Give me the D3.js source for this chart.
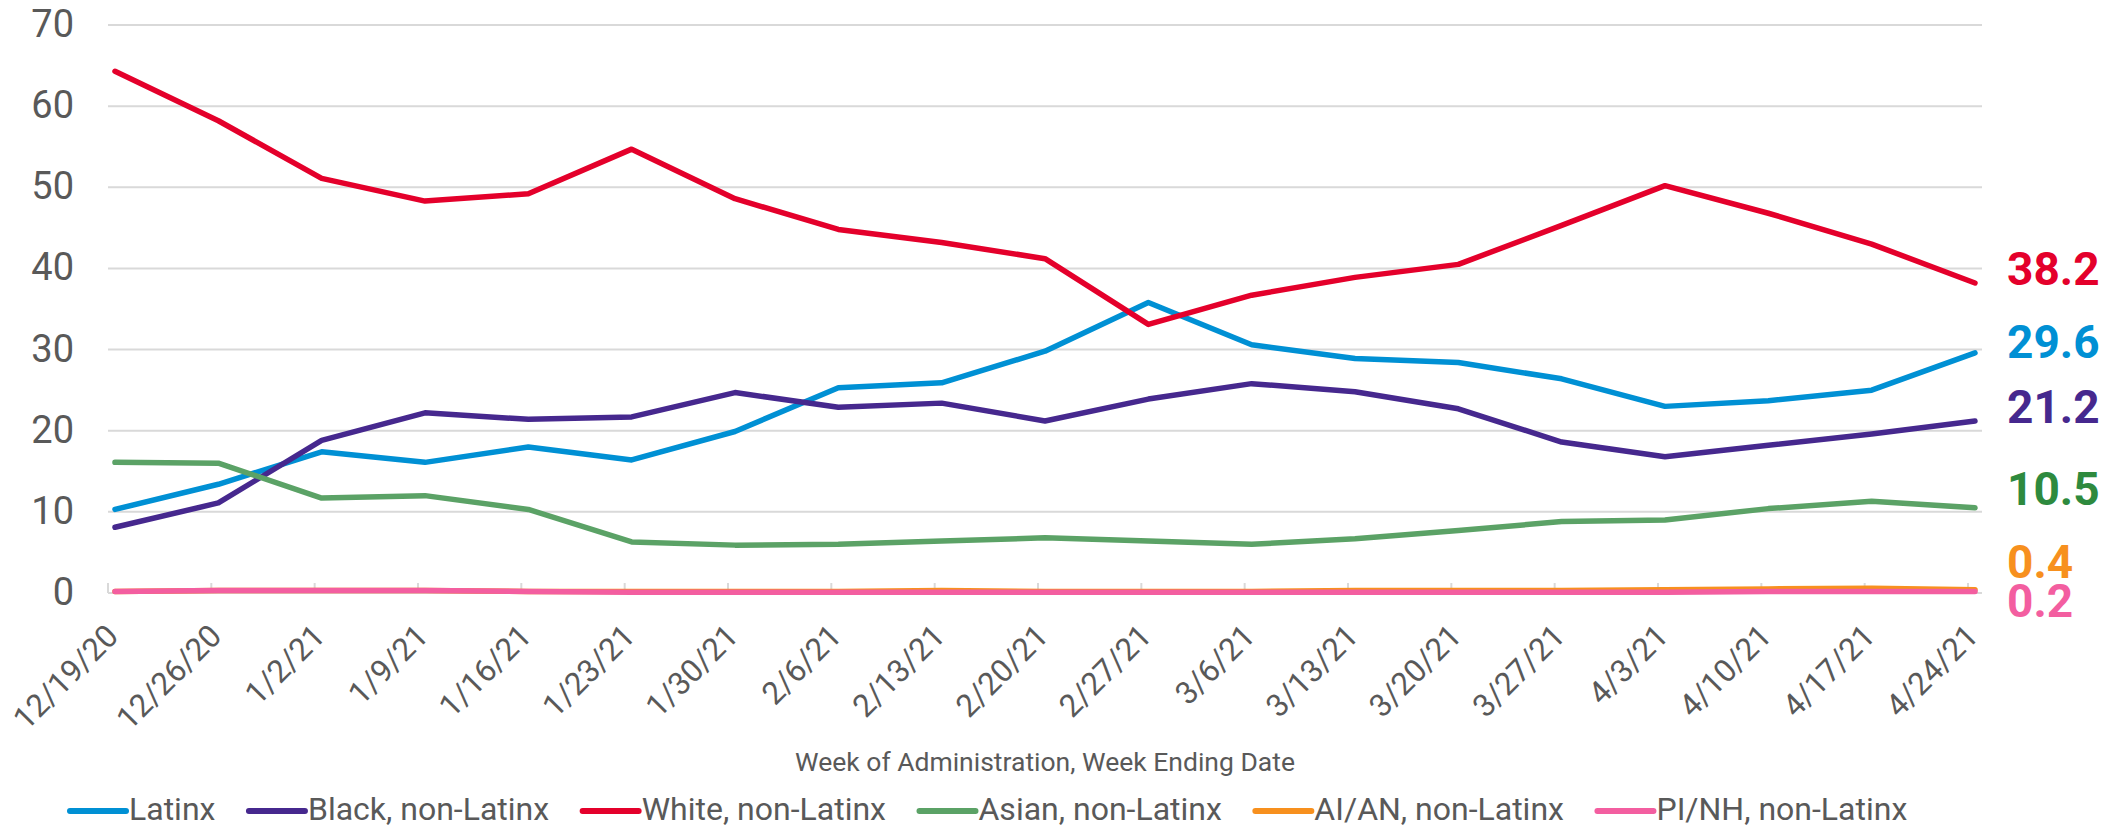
<!DOCTYPE html>
<html>
<head>
<meta charset="utf-8" />
<script src="https://cdnjs.cloudflare.com/ajax/libs/d3/7.8.5/d3.min.js"></script>
<style>
  body { margin: 0; background: #fff; }
  svg { font-family: Roboto, "Noto Sans", sans-serif; }
  .tick-label { fill: #595959; }
</style>
</head>
<body>
<script>
// week ending dates
var weeks = ["12/19/20","12/26/20","1/2/21","1/9/21","1/16/21","1/23/21","1/30/21","2/6/21","2/13/21","2/20/21",
             "2/27/21","3/6/21","3/13/21","3/20/21","3/27/21","4/3/21","4/10/21","4/17/21","4/24/21"];

// series values (percent)
var latinx = [10.3,13.4,17.4,16.1,18.0,16.4,19.9,25.3,25.9,29.8,35.8,30.6,28.9,28.4,26.4,23.0,23.7,25.0,29.6];
var black  = [8.1,11.1,18.8,22.2,21.4,21.7,24.7,22.9,23.4,21.2,23.9,25.8,24.8,22.7,18.6,16.8,18.2,19.6,21.2];
var white  = [64.3,58.2,51.1,48.3,49.2,54.7,48.6,44.8,43.2,41.2,33.1,36.7,38.9,40.5,45.3,50.2,46.8,43.0,38.2];
var asian  = [16.1,16.0,11.7,12.0,10.3,6.3,5.9,6.0,6.4,6.8,6.4,6.0,6.7,7.7,8.8,9.0,10.4,11.3,10.5];
var aian   = [0.2,0.3,0.3,0.3,0.2,0.2,0.2,0.2,0.3,0.2,0.2,0.2,0.3,0.3,0.3,0.4,0.5,0.6,0.4];
var pinh   = [0.2,0.3,0.3,0.3,0.2,0.1,0.1,0.1,0.1,0.1,0.1,0.1,0.1,0.1,0.1,0.1,0.2,0.2,0.2];

var seriesNames = ["Latinx","Black, non-Latinx","White, non-Latinx","Asian, non-Latinx","AI/AN, non-Latinx","PI/NH, non-Latinx"];
var yTicks = [0,10,20,30,40,50,60,70];

var lineColors  = ["#0090d4","#46288e","#e4002b","#5ba266","#f7901e","#f35ea0"];
var labelColors = ["#0090d4","#46288e","#e4002b","#2e8a3e","#f7901e","#f35ea0"];
// little vertical nudges so the end labels do not collide
var labelNudge = [5, 2, 2, -3, -12, 26];

var all = [latinx, black, white, asian, aian, pinh];

var w = 2128, h = 827;
var left = 108, right = 1982;

var svg = d3.select("body").append("svg")
  .attr("width", w)
  .attr("height", h);

var x = d3.scalePoint()
  .domain(weeks)
  .range([115, 1975]);

var y = d3.scaleLinear()
  .domain([0, 70])
  .range([593, 25]);

// gridlines
svg.append("g").selectAll("line")
  .data(yTicks.filter(d => d > 0))
  .enter().append("line")
  .attr("x1", left).attr("x2", right)
  .attr("y1", d => y(d)).attr("y2", d => y(d))
  .attr("stroke", "#d9d9d9")
  .attr("stroke-width", 2);

// y labels
svg.append("g").selectAll("text")
  .data(yTicks)
  .enter().append("text")
  .attr("class", "tick-label")
  .attr("x", 74)
  .attr("y", d => y(d) + 12)
  .attr("text-anchor", "end")
  .style("font-size", "38px")
  .text(d => d);

// x axis line + tick marks
svg.append("line")
  .attr("x1", left).attr("x2", right)
  .attr("y1", y(0)).attr("y2", y(0))
  .attr("stroke", "#d9d9d9")
  .attr("stroke-width", 2);

svg.append("g").selectAll("line")
  .data(weeks)
  .enter().append("line")
  .attr("x1", d => x(d) - 7).attr("x2", d => x(d) - 7)
  .attr("y1", y(0) - 10).attr("y2", y(0))
  .attr("stroke", "#d9d9d9")
  .attr("stroke-width", 2);

// x labels, rotated
svg.append("g").selectAll("text")
  .data(weeks)
  .enter().append("text")
  .attr("class", "tick-label")
  .attr("text-anchor", "end")
  .attr("transform", d => "translate(" + (x(d) + 5) + ",638) rotate(-45)")
  .style("font-size", "31.5px")
  .text(d => d);

// x axis title
svg.append("text")
  .attr("class", "tick-label")
  .attr("x", (left + right) / 2)
  .attr("y", 771)
  .attr("text-anchor", "middle")
  .style("font-size", "26.5px")
  .text("Week of Administration, Week Ending Date");

// lines
var line = d3.line()
  .x((d, i) => x(weeks[i]))
  .y(d => y(d));

svg.append("g").selectAll("path")
  .data(all)
  .enter().append("path")
  .attr("d", d => line(d))
  .attr("fill", "none")
  .attr("stroke", (d, i) => lineColors[i])
  .attr("stroke-width", 5.5)
  .attr("stroke-linejoin", "round")
  .attr("stroke-linecap", "round");

// end value labels
svg.append("g").selectAll("text")
  .data(all)
  .enter().append("text")
  .attr("x", 2007)
  .attr("y", (d, i) => y(d[d.length - 1]) + labelNudge[i])
  .attr("fill", (d, i) => labelColors[i])
  .style("font-size", "46px")
  .style("font-weight", "bold")
  .text(d => d[d.length - 1].toFixed(1));

// legend
var legend = svg.append("g");
var lx = 70;
seriesNames.forEach(function(name, i) {
  legend.append("line")
    .attr("x1", lx).attr("x2", lx + 56)
    .attr("y1", 811).attr("y2", 811)
    .attr("stroke", lineColors[i])
    .attr("stroke-width", 6)
    .attr("stroke-linecap", "round");
  var t = legend.append("text")
    .attr("class", "tick-label")
    .attr("x", lx + 59)
    .attr("y", 820)
    .style("font-size", "32px")
    .text(name);
  lx += 59 + t.node().getComputedTextLength() + 33.5;
});
</script>
</body>
</html>
